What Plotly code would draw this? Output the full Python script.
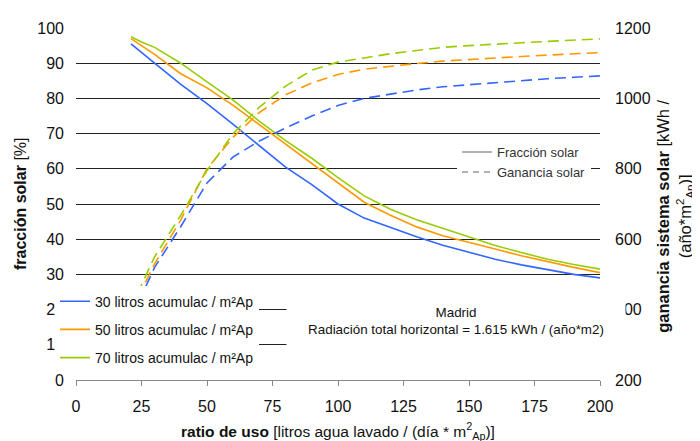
import plotly.graph_objects as go

ratio = [21, 25, 30, 40, 50, 60, 70, 80, 90, 100, 110, 120, 130, 140, 150, 160, 170, 180, 190, 200]

series_names = ["30 litros acumulac / m²Ap", "50 litros acumulac / m²Ap", "70 litros acumulac / m²Ap"]
colors = ["#3366FF", "#FF9900", "#99CC00"]

fraccion_30 = [95.5, 93, 90, 84, 78.5, 72.6, 66.5, 60.5, 55.5, 50, 46, 43.3, 40.7, 38.3, 36.3, 34.3, 32.7, 31.3, 30, 29]
fraccion_50 = [97, 95, 92.5, 87, 83, 78, 72.5, 67, 61.5, 56, 50.5, 46.8, 43.5, 41, 39, 37.2, 35.3, 33.6, 32, 30.5]
fraccion_70 = [97.5, 96, 94.5, 90, 84.7, 79.5, 73.5, 68, 63, 57.5, 52.3, 48.5, 45.5, 43, 40.7, 38.2, 36.2, 34.3, 32.8, 31.5]

ganancia_30 = [380, 440, 520, 636, 760, 834, 879, 916, 950, 980, 1000, 1012, 1024, 1033, 1039, 1045, 1050, 1056, 1060, 1064]
ganancia_50 = [390, 455, 530, 655, 800, 890, 960, 1010, 1044, 1068, 1083, 1092, 1099, 1106, 1111, 1116, 1119, 1123, 1127, 1130]
ganancia_70 = [400, 470, 550, 668, 795, 900, 975, 1035, 1080, 1103, 1115, 1127, 1136, 1145, 1150, 1155, 1158, 1162, 1166, 1169]

x_ticks = [0, 25, 50, 75, 100, 125, 150, 175, 200]
left_ticks = list(range(0, 101, 10))
right_ticks = [200, 400, 600, 800, 1000, 1200]

FONT = "Liberation Sans, Arial, sans-serif"

# The page body has an 8px margin; plot area should land at x 76..600, y 22..380 on screen.
OFF = 8
PL, PT, PW, PH = 76, 22, 524, 358


def px(xs):
    return (xs - PL) / PW


def py(ys):
    return (PT + PH - ys) / PH


fig = go.Figure()

fracciones = [fraccion_30, fraccion_50, fraccion_70]
ganancias = [ganancia_30, ganancia_50, ganancia_70]

for i in range(3):
    fig.add_trace(go.Scatter(
        x=ratio, y=fracciones[i], mode="lines", name=series_names[i],
        line=dict(color=colors[i], width=1.6), legend="legend",
        legendgroup="g%d" % i, yaxis="y"))
for i in range(3):
    fig.add_trace(go.Scatter(
        x=ratio, y=ganancias[i], mode="lines", showlegend=False,
        line=dict(color=colors[i], width=1.6, dash="11px,6px"), yaxis="y2"))

fig.add_trace(go.Scatter(x=[None], y=[None], mode="lines", name="Fracción solar",
                         line=dict(color="#999999", width=1.5), legend="legend2", yaxis="y"))
fig.add_trace(go.Scatter(x=[None], y=[None], mode="lines", name="Ganancia solar",
                         line=dict(color="#999999", width=1.5, dash="6px,5px"), legend="legend2", yaxis="y"))

fig.update_layout(
    width=700, height=441,
    margin=dict(l=PL - OFF, r=700 - (PL + PW - OFF), t=PT - OFF, b=441 - (PT + PH - OFF)),
    paper_bgcolor="white", plot_bgcolor="white",
    font=dict(family=FONT, size=16, color="#111111"),
    xaxis=dict(range=[0, 200], tickvals=x_ticks, ticks="outside", ticklen=5,
               tickcolor="#888888", showline=True, linecolor="#888888", linewidth=1,
               showgrid=False, zeroline=False, ticklabelstandoff=7,
               tickfont=dict(size=16, color="#111111")),
    yaxis=dict(range=[0, 100], tickvals=left_ticks, showgrid=True, gridcolor="#222222",
               gridwidth=1, zeroline=False, showline=False, ticks="", ticklabelstandoff=11,
               tickfont=dict(size=16, color="#111111")),
    yaxis2=dict(range=[200, 1200], tickvals=right_ticks, overlaying="y", side="right",
                showgrid=False, zeroline=False, showline=False, ticks="", ticklabelstandoff=14,
                tickfont=dict(size=16, color="#111111")),
    legend=dict(x=px(55), y=py(284), xanchor="left", yanchor="top",
                bgcolor="white", borderwidth=0, tracegroupgap=7,
                font=dict(size=14, color="#111111", family=FONT), itemwidth=30),
    legend2=dict(x=px(457), y=py(133), xanchor="left", yanchor="top",
                 bgcolor="white", borderwidth=0,
                 font=dict(size=13, color="#333333", family=FONT), itemwidth=30),
    showlegend=True,
)

fig.add_annotation(
    text="Madrid<br>Radiación total horizontal = 1.615 kWh / (año*m2)",
    xref="paper", yref="paper", x=px(456), y=py(320),
    xanchor="center", yanchor="middle", showarrow=False,
    width=338, height=72, bgcolor="white", borderpad=0, align="center",
    font=dict(size=13.4, color="#111111", family=FONT))

fig.add_annotation(
    text="<b>ratio de uso</b> [litros agua lavado / (día * m<sup>2</sup><sub>Ap</sub>)]",
    xref="paper", yref="paper", x=px(338), y=py(432),
    xanchor="center", yanchor="middle", showarrow=False,
    font=dict(size=15.5, color="#111111", family=FONT))

fig.add_annotation(
    text="<b>fracción solar</b> [%]",
    xref="paper", yref="paper", x=px(20), y=0.5, textangle=-90,
    xanchor="center", yanchor="middle", showarrow=False,
    font=dict(size=16, color="#111111", family=FONT))

fig.add_annotation(
    text="<b>ganancia sistema solar</b> [kWh /<br>(año*m<sup>2</sup><sub>Ap</sub>)]",
    xref="paper", yref="paper", x=px(675), y=py(214), textangle=-90,
    xanchor="center", yanchor="middle", showarrow=False,
    font=dict(size=16.5, color="#111111", family=FONT))

fig.write_html("out.html")
